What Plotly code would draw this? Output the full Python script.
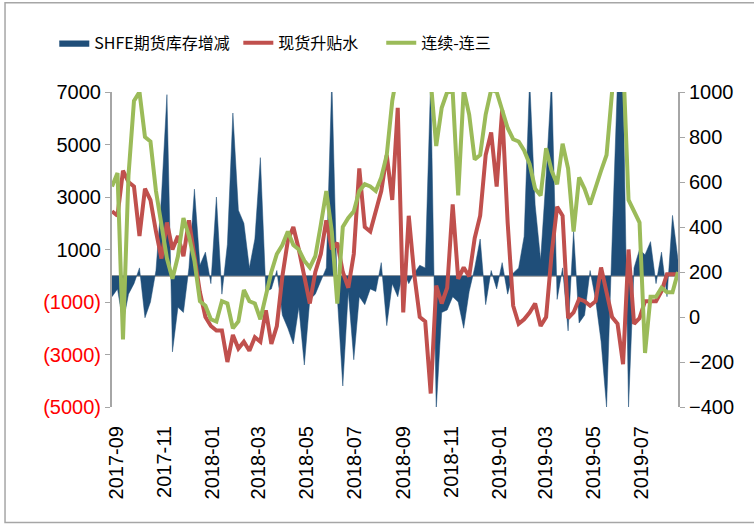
import pandas as pd
import plotly.graph_objects as go

# weekly dates (2017-08-26 .. 2019-08-17)
dates = pd.date_range("2017-08-26", periods=104, freq="7D")

# SHFE期货库存增减 (left axis)
stock_chg = [
    -800, -500, -1800, -700, -300, 300, -1600, -1000, 200, 3000,
    6900, -2900, -1200, -1400, 300, 3300, 400, 900, -300, 3000,
    -700, 1200, 6200, 2500, 2000, 300, 1400, 4500, -600, -500,
    200, -1500, -2000, -2600, -1200, -3400, -900, -700, -200, 300,
    7500, -800, -4200, -600, -3200, -800, -1100, -500, -600, 500,
    -1900, -300, -800, 200, -300, 100, 400, 300, 7500, -5100,
    -1400, -1300, -800, -1000, -2000, -600, 300, 1400, -1100, 200,
    -500, 500, -700, 100, 300, 1500, 7500, 2700, 600, 3800,
    7500, -900, 300, -2100, 1700, -1800, -1500, 200, -900, -2500,
    -5000, 1300, 7500, 7500, -5000, 300, 1000, 800, 1300, -300,
    900, -800, 2300, 600,
]

# 现货升贴水 (right axis)
spot_premium = [
    470, 450, 650, 600, 580, 360, 570, 520, 380, 260,
    420, 300, 360, 270, 430, 280, 110, 0, -40, -60,
    -60, -200, -80, -140, -110, -150, -90, -110, 30, -120,
    -40, 180, 340, 400, 300, 180, 60, 200, 280, 430,
    300, 330, 200, 130, 280, 660, 400, 380, 470, 560,
    720, 520, 930, 20, 450, 190, 0, -20, -340, 140,
    60, 130, 500, 170, 220, 180, 350, 450, 720, 820,
    580, 920, 420, 50, -30, -10, 20, 60, -40, 0,
    280, 490, 450, -5, 20, 80, 70, 50, 70, 220,
    110, 0, -30, -210, 300, -30, -5, 70, 70, 70,
    115, 190, 190, 190,
]

# 连续-连三 (right axis)
spread_1_3 = [
    580, 640, -100, 630, 960, 1000, 800, 780, 560, 420,
    260, 170, 270, 440, 360, 250, 70, 50, -10, -20,
    70, 60, -50, -20, 120, 70, 60, -10, 100, 200,
    280, 320, 380, 320, 300, 250, 220, 270, 410, 560,
    380, 60, 400, 440, 470, 560, 590, 580, 560, 620,
    720, 960, 1100, 1150, 1150, 1150, 1150, 1100, 1050, 760,
    930, 1000, 1000, 540, 1010, 900, 700, 720, 900, 1010,
    1000, 920, 840, 790, 780, 740, 680, 570, 540, 750,
    650, 590, 770, 660, 380, 620, 570, 500, 580, 650,
    720, 1000, 1150, 1150, 520, 470, 420, -160, 90, 90,
    130, 110, 110, 200,
]

left_ticks = [7000, 5000, 3000, 1000, -1000, -3000, -5000]
left_text = ["7000", "5000", "3000", "1000",
             '<span style="color:#FF0000">(1000)</span>',
             '<span style="color:#FF0000">(3000)</span>',
             '<span style="color:#FF0000">(5000)</span>']

fig = go.Figure()

fig.add_trace(go.Scatter(x=dates, y=stock_chg, name="SHFE期货库存增减\u00a0",
                         mode="lines", fill="tozeroy",
                         line=dict(color="#1F4E79", width=0.5),
                         fillcolor="#1F4E79"))
# trailing no-break spaces widen the entry to match the reference spacing
fig.add_trace(go.Scatter(x=dates, y=spot_premium,
                         name="现货升贴水\u00a0\u00a0\u00a0\u00a0\u00a0",
                         mode="lines", yaxis="y2",
                         line=dict(color="#C0504D", width=4)))
fig.add_trace(go.Scatter(x=dates, y=spread_1_3, name="连续-连三",
                         mode="lines", yaxis="y2",
                         line=dict(color="#9BBB59", width=4)))

axis_font = dict(family="Liberation Sans", size=20, color="#000000")

fig.update_layout(
    width=754, height=524,
    margin=dict(l=112, r=76, t=92, b=117),
    plot_bgcolor="white", paper_bgcolor="white",
    showlegend=True,
    # legend placed in container coords so it does not push the margins
    legend=dict(orientation="h", xref="container", yref="container",
                x=0.072, y=0.918, xanchor="left", yanchor="middle",
                font=dict(family="Noto Sans CJK SC", size=16, color="#000000"),
                traceorder="normal"),
    xaxis=dict(type="date", range=["2017-08-26", "2019-08-17"],
               tick0="2017-09-01", dtick="M2", tickformat="%Y-%m",
               tickangle=-90, showgrid=False, showline=False,
               zeroline=False, ticks="", tickfont=axis_font,
               ticklabelstandoff=14),
    yaxis=dict(range=[-5000, 7000], tickvals=left_ticks, ticktext=left_text,
               showgrid=False, showline=True, linecolor="#A6A6A6",
               linewidth=2, ticks="outside", ticklen=5, tickcolor="#A6A6A6",
               zeroline=True, zerolinecolor="#A6A6A6", zerolinewidth=2,
               tickfont=axis_font),
    yaxis2=dict(range=[-400, 1000], dtick=200, overlaying="y", side="right",
                showgrid=False, showline=True, linecolor="#A6A6A6",
                linewidth=2, ticks="outside", ticklen=5, tickcolor="#A6A6A6",
                zeroline=False, tickfont=axis_font),
    shapes=[dict(type="rect", xref="paper", yref="paper",
                 x0=-0.189, x1=1.15, y0=-0.367, y1=1.283,
                 line=dict(color="#A6A6A6", width=1.5))],
)

# remove the browser's default body margin so the figure sits at (0, 0)
fig.write_html("out.html", config={"displayModeBar": False},
               post_script="document.body.style.margin='0';")
